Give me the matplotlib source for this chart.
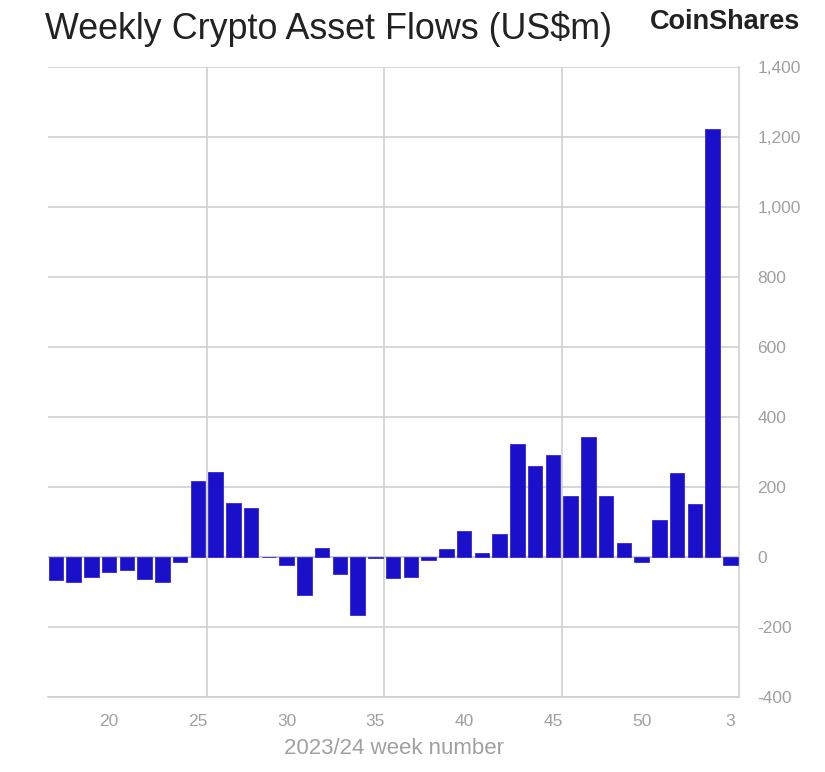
import matplotlib.pyplot as plt
import numpy as np

# Weekly flows, 2023 week 17 to 2024 week 3 (US$m)
week_labels = [str(w) for w in range(17, 53)] + ['1', '2', '3']
flows = [-65, -70, -57, -42, -37, -63, -72, -14, 218, 243, 155, 141, 0, -23,
         -108, 26, -49, -166, -4, -61, -56, -8, 22, 74, 12, 65, 324, 259, 291,
         174, 344, 174, 40, -15, 107, 241, 151, 1222, -22]
tick_every = 5
y_ticks = [-400, -200, 0, 200, 400, 600, 800, 1000, 1200, 1400]

plt.rcParams['font.family'] = ['Liberation Sans', 'DejaVu Sans']

pos = np.arange(len(flows)) + 17  # continuous week index
tick_idx = [i for i in range(len(pos)) if pos[i] % tick_every == 0]

fig = plt.figure(figsize=(8.25, 7.72), dpi=100)
ax = fig.add_axes([0.058, 0.0971, 0.838, 0.816])

ax.bar(pos, flows, width=0.82, color='#1a10c9', edgecolor='#3328d6',
       linewidth=0.6, zorder=3)

ax.set_xlim(pos[0] - 0.45, pos[-1] + 0.5)
ax.set_ylim(-400, 1400)

grid_c = '#cfcfcf'
for y in y_ticks:
    ax.axhline(y, color=grid_c, lw=1.2, zorder=1)
for x in [25.5, 35.5, 45.5]:
    ax.axvline(x, color=grid_c, lw=1.2, zorder=1)
ax.axhline(0, color='#c8c8c8', lw=1.2, zorder=2)

for s in ['left', 'top']:
    ax.spines[s].set_visible(False)
ax.spines['right'].set_color(grid_c)
ax.spines['right'].set_linewidth(1.2)
ax.spines['bottom'].set_color(grid_c)
ax.spines['bottom'].set_linewidth(1.2)

ax.yaxis.tick_right()
ax.set_yticks(y_ticks)
ax.set_yticklabels([f'{v:,}' for v in y_ticks])
ax.set_xticks(pos[tick_idx])
ax.set_xticklabels([week_labels[i] for i in tick_idx])
ax.tick_params(axis='both', length=0, labelsize=12.5, colors='#a0a0a0')
ax.tick_params(axis='y', pad=13)
ax.tick_params(axis='x', pad=12)
ax.set_xlabel('2023/24 week number', fontsize=16, color='#a0a0a0', labelpad=7)

fig.text(0.054, 0.963, 'Weekly Crypto Asset Flows (US$m)', fontsize=25.8,
         color='#222222', va='center', ha='left')
fig.text(0.97, 0.972, 'CoinShares', fontsize=19.5, fontweight='bold',
         color='#222222', va='center', ha='right')

plt.savefig('out.png', dpi=100)
